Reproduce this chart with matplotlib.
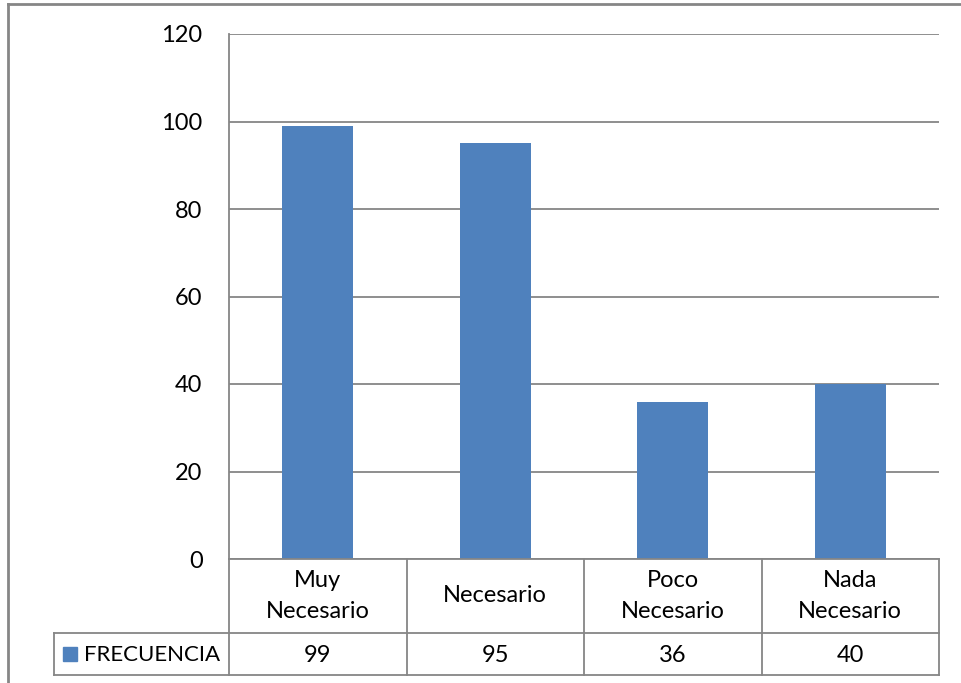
import matplotlib.pyplot as plt
from matplotlib.lines import Line2D
from matplotlib.patches import Rectangle
from matplotlib import transforms

plt.rcParams['font.family'] = ['Lato', 'DejaVu Sans']

categories = ["Muy\nNecesario", "Necesario", "Poco\nNecesario", "Nada\nNecesario"]
frecuencia = [99, 95, 36, 40]
series_name = "FRECUENCIA"
y_ticks = [0, 20, 40, 60, 80, 100, 120]

W, H = 961, 683
bar_color = "#4F81BD"
line_color = "#868686"
fs = 17

fig = plt.figure(figsize=(W / 100, H / 100), dpi=100)


def fx(px):
    return px / W


def fy(py):
    return 1 - py / H


# plot area
ax = fig.add_axes([fx(229), fy(559), fx(939) - fx(229), fy(34) - fy(559)])
x = list(range(len(categories)))
ax.bar(x, frecuencia, width=0.4, color=bar_color, zorder=3)
ax.set_xlim(-0.5, len(categories) - 0.5)
ax.set_ylim(0, 120)
ax.set_yticks(y_ticks)
ax.set_yticklabels([str(t) for t in y_ticks], fontsize=fs)
ax.tick_params(axis='y', length=0, pad=19)
ax.set_xticks([])
ax.grid(axis='y', color=line_color, linewidth=1.3, zorder=0)
for side in ['top', 'right', 'bottom']:
    ax.spines[side].set_visible(False)
ax.spines['left'].set_color(line_color)
ax.spines['left'].set_linewidth(1.3)

# data table under the axis
def hline(x0, x1, y):
    fig.add_artist(Line2D([fx(x0), fx(x1)], [fy(y), fy(y)], color=line_color, lw=1.3))


def vline(x, y0, y1):
    fig.add_artist(Line2D([fx(x), fx(x)], [fy(y0), fy(y1)], color=line_color, lw=1.3))


col_edges = [229 + i * (939 - 229) / len(categories) for i in range(len(categories) + 1)]
hline(229, 939, 559)
hline(54, 939, 633)
hline(54, 939, 675)
vline(54, 633, 675)
for e in col_edges:
    vline(e, 559, 675)

trans = transforms.blended_transform_factory(ax.transData, fig.transFigure)
for xi, cat, val in zip(x, categories, frecuencia):
    fig.text(xi, fy(596), cat, transform=trans, ha='center', va='center',
             fontsize=fs, linespacing=1.55)
    fig.text(xi, fy(655), str(val), transform=trans, ha='center', va='center', fontsize=fs)

fig.add_artist(Rectangle((fx(63), fy(661)), fx(77) - fx(63), fy(647) - fy(661),
                         color=bar_color, transform=fig.transFigure))
fig.text(fx(84), fy(655), series_name, ha='left', va='center', fontsize=16)

# outer chart frame
fig.add_artist(Line2D([fx(8), fx(8)], [fy(4), 0], color=line_color, lw=2))
fig.add_artist(Line2D([fx(8), 1], [fy(4), fy(4)], color=line_color, lw=2))

fig.savefig("out.png", dpi=100)
